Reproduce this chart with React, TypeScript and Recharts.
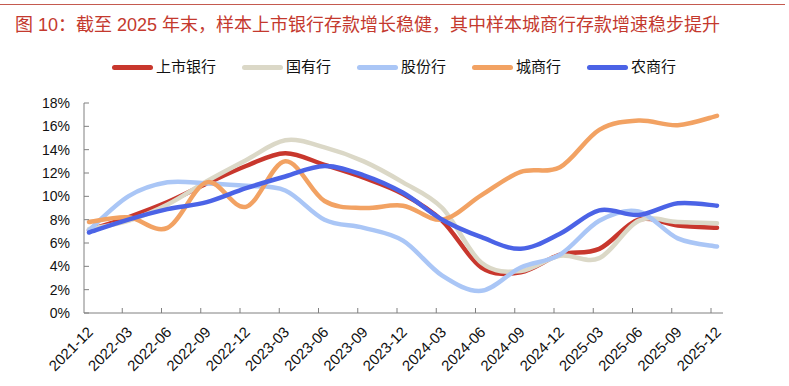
import { LineChart, Line, XAxis, YAxis } from "recharts";

const quarters = [
  "2021-12", "2022-03", "2022-06", "2022-09", "2022-12", "2023-03", "2023-06", "2023-09",
  "2023-12", "2024-03", "2024-06", "2024-09", "2024-12", "2025-03", "2025-06", "2025-09", "2025-12",
];

const listed = [7.1, 8.2, 9.5, 11.1, 12.6, 13.7, 12.7, 11.6, 10.2, 7.9, 3.9, 3.5, 5.0, 5.5, 8.0, 7.5, 7.3];
const stateOwned = [7.2, 7.9, 9.3, 11.3, 13.1, 14.8, 14.2, 13.0, 11.2, 9.0, 4.3, 3.6, 4.9, 4.7, 7.9, 7.8, 7.7];
const jointStock = [7.1, 10.0, 11.2, 11.1, 10.9, 10.5, 8.0, 7.3, 6.2, 3.2, 1.9, 3.9, 5.0, 7.9, 8.7, 6.4, 5.7];
const cityComm = [7.8, 8.2, 7.3, 11.2, 9.1, 13.0, 9.6, 9.0, 9.2, 8.0, 10.1, 12.1, 12.5, 15.7, 16.5, 16.1, 16.9];
const rural = [6.9, 8.0, 8.9, 9.5, 10.7, 11.7, 12.6, 11.8, 10.3, 8.0, 6.5, 5.5, 6.8, 8.8, 8.4, 9.4, 9.2];

const yTicks = [0, 2, 4, 6, 8, 10, 12, 14, 16, 18];

const series = [
  { key: "listed", name: "上市银行", color: "#C8372D", values: listed },
  { key: "stateOwned", name: "国有行", color: "#DBD8C7", values: stateOwned },
  { key: "jointStock", name: "股份行", color: "#AAC6F6", values: jointStock },
  { key: "cityComm", name: "城商行", color: "#F2A263", values: cityComm },
  { key: "rural", name: "农商行", color: "#4B63E6", values: rural },
];

const data = quarters.map((q, i) => {
  const row: Record<string, string | number> = { q };
  series.forEach((s) => (row[s.key] = s.values[i]));
  return row;
});

const FONT = "'Liberation Sans', Arial, 'Noto Sans CJK SC', sans-serif";
const AXIS = "#808080";

// Excel-style smoothing (uniform Catmull-Rom as bezier segments)
const excelSmooth = (ctx: any) => {
  let pts: number[][] = [];
  return {
    areaStart() {},
    areaEnd() {},
    lineStart() {
      pts = [];
    },
    point(x: number, y: number) {
      pts.push([+x, +y]);
    },
    lineEnd() {
      if (!pts.length) return;
      ctx.moveTo(pts[0][0], pts[0][1]);
      for (let i = 0; i < pts.length - 1; i++) {
        const p0 = pts[i - 1] || pts[i];
        const p1 = pts[i];
        const p2 = pts[i + 1];
        const p3 = pts[i + 2] || p2;
        ctx.bezierCurveTo(
          p1[0] + (p2[0] - p0[0]) / 6,
          p1[1] + (p2[1] - p0[1]) / 6,
          p2[0] - (p3[0] - p1[0]) / 6,
          p2[1] - (p3[1] - p1[1]) / 6,
          p2[0],
          p2[1]
        );
      }
    },
  };
};

const XTick = ({ x, y, payload, index }: any) => (
  <g>
    {index > 0 && <line x1={x - 6} x2={x - 6} y1={y} y2={y - 5} stroke={AXIS} />}
    <text
      x={x + 5}
      y={y + 20}
      textAnchor="end"
      fontSize={15}
      fontFamily={FONT}
      fill="#111"
      transform={`rotate(-45 ${x + 5} ${y + 20})`}
    >
      {payload.value}
    </text>
  </g>
);

const YTick = ({ x, y, payload }: any) => (
  <g>
    <line x1={x} x2={x + 5} y1={y} y2={y} stroke={AXIS} />
    <text x={x - 14} y={y + 5} textAnchor="end" fontSize={14} fontFamily={FONT} fill="#111">
      {`${payload.value}%`}
    </text>
  </g>
);

export default function App() {
  return (
    <div
      style={{
        position: "absolute",
        left: 0,
        top: 0,
        width: 789,
        height: 386,
        background: "#fff",
        fontFamily: FONT,
        overflow: "hidden",
      }}
    >
      <div style={{ position: "absolute", left: 0, top: 4, width: 785, height: 1, background: "#C45A4F" }} />
      <div
        style={{
          position: "absolute",
          left: 15,
          top: 15,
          fontSize: 18,
          lineHeight: "20px",
          color: "#C4392E",
          whiteSpace: "nowrap",
        }}
      >
        图 10：截至 2025 年末，样本上市银行存款增长稳健，其中样本城商行存款增速稳步提升
      </div>
      <div style={{ position: "absolute", left: 112, top: 58, display: "flex", alignItems: "center" }}>
        {series.map((s) => (
          <div key={s.key} style={{ display: "flex", alignItems: "center", marginRight: 26 }}>
            <div style={{ width: 41, height: 5, borderRadius: 3, background: s.color, marginRight: 3 }} />
            <span style={{ fontSize: 15, lineHeight: "18px", color: "#111" }}>{s.name}</span>
          </div>
        ))}
      </div>
      <div style={{ position: "absolute", left: 0, top: 0 }}>
        <LineChart width={789} height={386} data={data} margin={{ top: 103, right: 66, bottom: 13, left: 24 }}>
          <XAxis
            dataKey="q"
            interval={0}
            height={60}
            padding={{ left: 5, right: 6 }}
            stroke={AXIS}
            tickLine={false}
            tickSize={0}
            tickMargin={0}
            tick={<XTick />}
          />
          <YAxis
            domain={[0, 18]}
            ticks={yTicks}
            width={60}
            stroke={AXIS}
            tickLine={false}
            tickSize={0}
            tickMargin={0}
            tick={<YTick />}
          />
          {series.map((s) => (
            <Line
              key={s.key}
              dataKey={s.key}
              name={s.name}
              type={excelSmooth as any}
              stroke={s.color}
              strokeWidth={4.5}
              strokeLinecap="round"
              dot={false}
              activeDot={false}
              isAnimationActive={false}
            />
          ))}
        </LineChart>
      </div>
    </div>
  );
}
